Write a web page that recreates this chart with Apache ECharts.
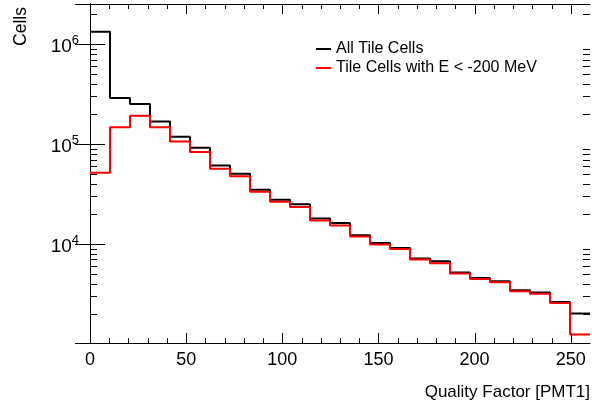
<!DOCTYPE html>
<html lang="en">
<head>
    <meta charset="UTF-8">
    <title>Quality Factor [PMT1]</title>
    <style>
        * { box-sizing: border-box; margin: 0; padding: 0; }
        body { background: #fff; }
        #chart { width: 592px; height: 407px; }
    </style>
    <script src="https://cdn.jsdelivr.net/npm/echarts@6/dist/echarts.min.js"></script>
</head>
<body>
    <div id="chart"></div>
    <script>
        // bin lower edges (25 bins of 10.4 over 0..260)
        const binEdges = [0, 10.4, 20.8, 31.2, 41.6, 52, 62.4, 72.8, 83.2, 93.6, 104, 114.4, 124.8,
                          135.2, 145.6, 156, 166.4, 176.8, 187.2, 197.6, 208, 218.4, 228.8, 239.2, 249.6];
        const xMax = 260;
        const allCells = [1.33e6, 2.88e5, 2.51e5, 1.68e5, 1.18e5, 9.2e4, 6.1e4, 5.05e4, 3.49e4, 2.77e4,
                          2.49e4, 1.80e4, 1.62e4, 1.22e4, 1.02e4, 9.12e3, 7.13e3, 6.7e3, 5.17e3, 4.57e3,
                          4.23e3, 3.44e3, 3.26e3, 2.63e3, 2.01e3];
        const negCells = [5.16e4, 1.47e5, 1.92e5, 1.47e5, 1.06e5, 8.3e4, 5.66e4, 4.75e4, 3.33e4, 2.65e4,
                          2.34e4, 1.72e4, 1.53e4, 1.19e4, 9.9e3, 8.9e3, 6.97e3, 6.4e3, 5.05e3, 4.47e3,
                          4.13e3, 3.36e3, 3.18e3, 2.57e3, 1.24e3];
        const seriesNames = ['All Tile Cells', 'Tile Cells with E < -200 MeV'];
        const yMin = 1020, yMax = 2.52e6;

        const font = '"Liberation Sans", Arial, sans-serif';

        // histogram outline: one point per bin edge, last bin closed at xMax
        function steps(vals) {
            const pts = binEdges.map((e, i) => [e, vals[i]]);
            pts.push([xMax, vals[vals.length - 1]]);
            return pts;
        }

        function powLabel(v) {
            const n = Math.round(Math.log10(v));
            if (Math.abs(Math.log10(v) - n) > 1e-6) return '';
            return '{b|10}{s|' + n + '}';
        }

        // ROOT-style frame ticks: [side, value, length]; side 0 bottom, 1 top, 2 left, 3 right
        const frameTicks = [];
        for (let v = 10; v < xMax; v += 10) {
            const len = v % 50 === 0 ? 10 : 5;
            frameTicks.push([0, v, len], [1, v, len]);
        }
        for (let d = 3; d <= 6; d++) {
            for (let k = 2; k <= 9; k++) {
                const v = k * Math.pow(10, d);
                if (v < yMin || v > yMax) continue;
                frameTicks.push([2, v, 7], [3, v, 7]);
            }
        }

        function renderTick(params, api) {
            const side = api.value(0), v = api.value(1), len = api.value(2);
            let p, q;
            if (side === 0) { p = api.coord([v, yMin]); q = [p[0], p[1] - len]; }
            else if (side === 1) { p = api.coord([v, yMax]); q = [p[0], p[1] + len]; }
            else if (side === 2) { p = api.coord([0, v]); q = [p[0] + len, p[1]]; }
            else { p = api.coord([xMax, v]); q = [p[0] - len, p[1]]; }
            const h = side < 2;
            const fx = (a) => Math.round(a) + 0.5;
            return {
                type: 'line',
                shape: h ? { x1: fx(p[0]), y1: p[1], x2: fx(q[0]), y2: q[1] }
                         : { x1: p[0], y1: fx(p[1]), x2: q[0], y2: fx(q[1]) },
                style: { stroke: '#000', lineWidth: 1 }
            };
        }

        const xCommon = {
            type: 'value', min: 0, max: xMax, interval: 50,
            axisLine: { show: true, lineStyle: { color: '#000', width: 1 } },
            axisTick: { show: false },
            minorTick: { show: false },
            splitLine: { show: false }
        };
        const yCommon = {
            type: 'log', min: yMin, max: yMax, logBase: 10,
            axisLine: { show: true, lineStyle: { color: '#000', width: 1 } },
            axisTick: { show: true, inside: true, length: 15, lineStyle: { color: '#000', width: 1 } },
            splitLine: { show: false }
        };

        const chart = echarts.init(document.getElementById('chart'));
        chart.setOption({
            animation: false,
            grid: { left: 90, right: 2, top: 4, bottom: 64 },
            textStyle: { fontFamily: font },
            legend: {
                orient: 'vertical', left: 311, top: 34.5, itemGap: 0,
                icon: 'rect', itemWidth: 15, itemHeight: 2,
                textStyle: { fontFamily: font, fontSize: 16, lineHeight: 19, color: '#000' },
                data: seriesNames
            },
            xAxis: [
                Object.assign({}, xCommon, {
                    position: 'bottom',
                    axisLabel: { show: true, margin: 8, fontSize: 18, color: '#000', fontFamily: font, showMaxLabel: false }
                }),
                Object.assign({}, xCommon, { position: 'top', axisLabel: { show: false } })
            ],
            yAxis: [
                Object.assign({}, yCommon, {
                    position: 'left',
                    axisLabel: {
                        show: true, margin: 11, color: '#000', fontFamily: font,
                        showMinLabel: false, showMaxLabel: false,
                        formatter: powLabel,
                        rich: {
                            b: { fontSize: 19, fontFamily: font, color: '#000', padding: [6, 0, 0, 0] },
                            s: { fontSize: 13, fontFamily: font, color: '#000', padding: [0, 0, 7, 0] }
                        }
                    }
                }),
                Object.assign({}, yCommon, { position: 'right', axisLabel: { show: false } })
            ],
            series: [
                {
                    name: seriesNames[0], type: 'line', step: 'end', showSymbol: false,
                    data: steps(allCells), color: '#000',
                    lineStyle: { color: '#000', width: 2 }, z: 3
                },
                {
                    name: seriesNames[1], type: 'line', step: 'end', showSymbol: false,
                    data: steps(negCells), color: '#ff0000',
                    lineStyle: { color: '#ff0000', width: 2 }, z: 4
                },
                {
                    name: 'ticks', type: 'custom', clip: false, silent: true, z: 5,
                    renderItem: renderTick, data: frameTicks, tooltip: { show: false }
                }
            ],
            graphic: [
                {
                    type: 'text', x: 21, y: 7, rotation: Math.PI / 2,
                    style: { text: 'Cells', align: 'right', verticalAlign: 'middle', fontSize: 17.5, fontWeight: 'normal', fontFamily: font, fill: '#000' }
                },
                {
                    type: 'text', x: 590, y: 392,
                    style: { text: 'Quality Factor [PMT1]', align: 'right', verticalAlign: 'middle', fontSize: 17, fontWeight: 'normal', fontFamily: font, fill: '#000' }
                }
            ]
        });
    </script>
</body>
</html>
